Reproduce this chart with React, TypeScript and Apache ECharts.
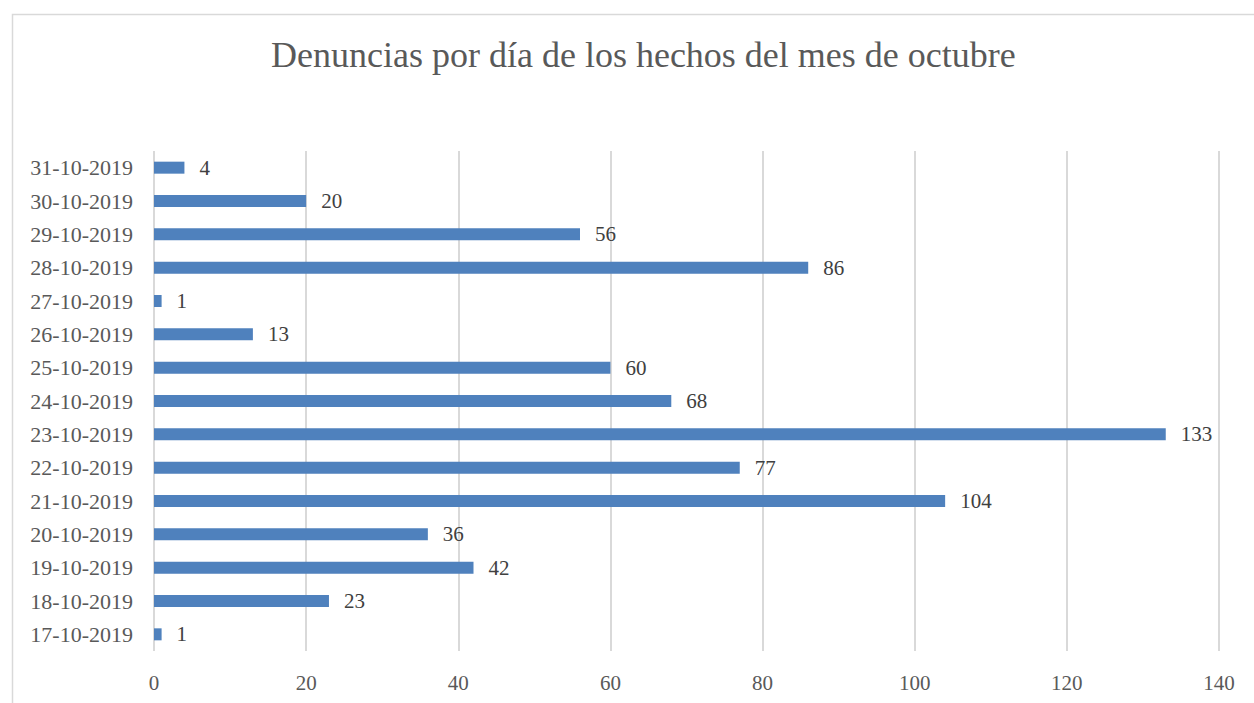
import React, { useEffect, useRef } from "react";
import * as echarts from "echarts";

const title = "Denuncias por día de los hechos del mes de octubre";
const categories = [
  "17-10-2019", "18-10-2019", "19-10-2019", "20-10-2019", "21-10-2019",
  "22-10-2019", "23-10-2019", "24-10-2019", "25-10-2019", "26-10-2019",
  "27-10-2019", "28-10-2019", "29-10-2019", "30-10-2019", "31-10-2019",
];
const values = [1, 23, 42, 36, 104, 77, 133, 68, 60, 13, 1, 86, 56, 20, 4];
const axisMin = 0;
const axisMax = 140;
const axisInterval = 20;

const FONT = "'Liberation Serif', 'DejaVu Serif', serif";

export default function App() {
  const ref = useRef<HTMLDivElement>(null);
  useEffect(() => {
    if (!ref.current) return;
    const chart = echarts.init(ref.current, null, { renderer: "svg" });
    chart.setOption({
      animation: false,
      backgroundColor: "#ffffff",
      title: {
        text: title,
        left: 266,
        top: 32,
        textStyle: { fontFamily: FONT, fontSize: 36, fontWeight: "normal", color: "#595959" },
      },
      graphic: [
        {
          type: "rect",
          shape: { x: 12.5, y: 14.5, width: 1260, height: 700 },
          style: { fill: "none", stroke: "#d9d9d9", lineWidth: 1.5 },
          silent: true,
        },
      ],
      grid: { left: 154, right: 35, top: 151, bottom: 52 },
      xAxis: {
        type: "value",
        min: axisMin,
        max: axisMax,
        interval: axisInterval,
        axisLine: { show: false },
        axisTick: { show: false },
        axisLabel: { fontFamily: FONT, fontSize: 21, color: "#595959", margin: 21 },
        splitLine: { show: true, lineStyle: { color: "#d9d9d9", width: 2 } },
      },
      yAxis: {
        type: "category",
        data: categories,
        axisLine: { show: false },
        axisTick: { show: false },
        axisLabel: { fontFamily: FONT, fontSize: 22, color: "#595959", margin: 21 },
      },
      series: [
        {
          type: "bar",
          data: values,
          barWidth: 12,
          itemStyle: { color: "#4f81bd" },
          label: {
            show: true,
            position: "right",
            distance: 15,
            fontFamily: FONT,
            fontSize: 21,
            color: "#404040",
          },
        },
      ],
    });
    return () => chart.dispose();
  }, []);
  return (
    <div
      ref={ref}
      style={{ position: "fixed", left: 0, top: 0, width: 1254, height: 703 }}
    />
  );
}
